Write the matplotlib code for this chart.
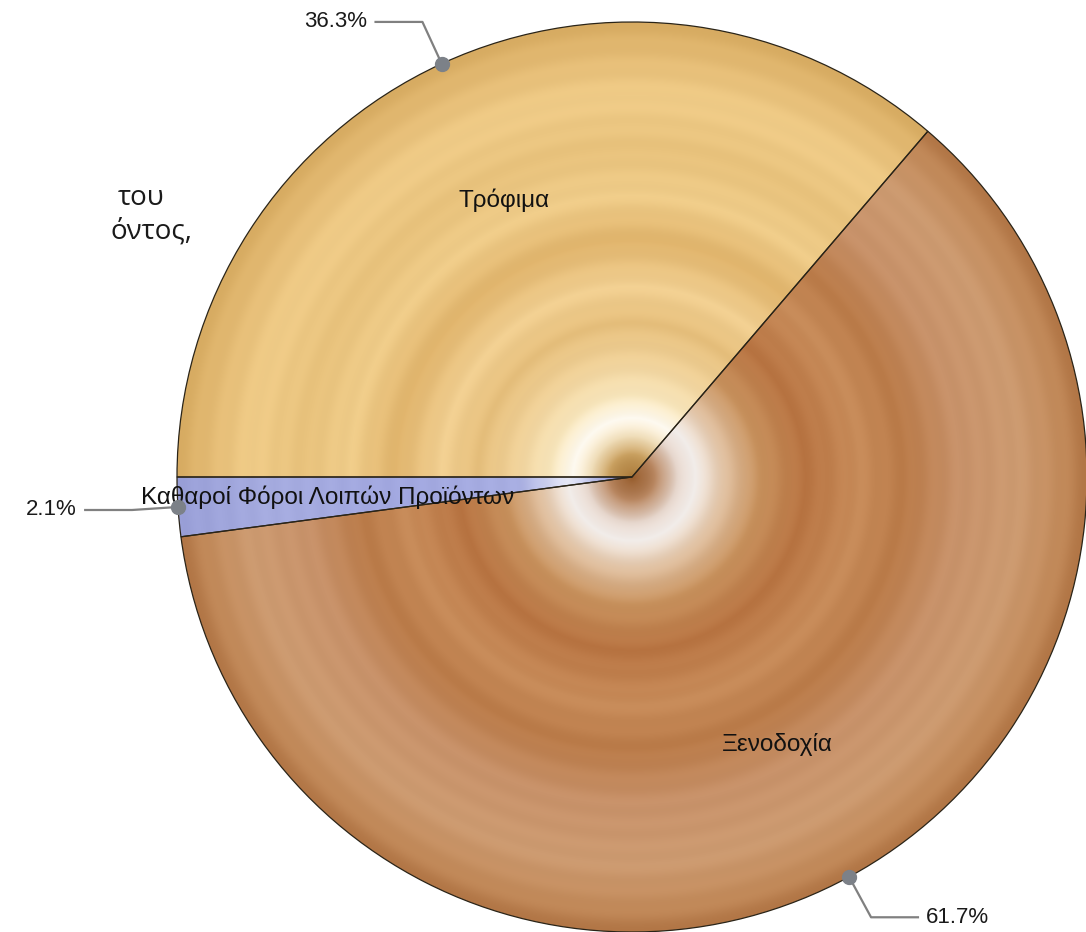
import numpy as np
import matplotlib
matplotlib.use('Agg')
import matplotlib.pyplot as plt
from matplotlib.colors import to_rgb

# ---- data ----
categories = ['Τρόφιμα', 'Καθαροί Φόροι Λοιπών Προϊόντων', 'Ξενοδοχία']
values = [36.3, 2.1, 61.7]
pct_labels = ['36.3%', '2.1%', '61.7%']
title_fragments = ['του', 'όντος,']

W, H = 1086, 932
fig = plt.figure(figsize=(W / 100, H / 100), dpi=100)
ax = fig.add_axes([0, 0, 1, 1])

cx, cy = 632, H - 477
R = 455
total = sum(values)
start = 180 - values[0] / total * 360

wedges, texts = ax.pie(values, center=(cx, cy), radius=R, startangle=start,
                       counterclock=True, labels=categories, labeldistance=0.67,
                       wedgeprops=dict(edgecolor='#2a2418', linewidth=0.9),
                       textprops=dict(fontsize=17.5, family='Liberation Sans', color='#111111'),
                       frame=True)
ax.set_xlim(0, W)
ax.set_ylim(0, H)
ax.set_aspect('auto')
ax.axis('off')

# radial colour profiles (style)
profiles = [
    [(0.00, '#a87838'), (0.05, '#c9a060'), (0.09, '#f2e0bc'), (0.13, '#fffbf2'),
     (0.18, '#f8e6bc'), (0.26, '#f0d198'), (0.34, '#e6bf7c'), (0.42, '#f2d092'),
     (0.52, '#e0b46c'), (0.62, '#f0cd8a'), (0.72, '#e8c27c'), (0.84, '#f0cc88'),
     (0.93, '#e4bb74'), (1.00, '#d8ac62')],
    [(0.00, '#6a72c0'), (0.10, '#c8ccee'), (0.14, '#e8eaf8'), (0.25, '#a8aee2'),
     (0.50, '#a2a8e0'), (0.80, '#a6ace0'), (1.00, '#9aa0d8')],
    [(0.00, '#945a2a'), (0.05, '#b88660'), (0.10, '#e6d6cc'), (0.14, '#f4efec'),
     (0.20, '#e2c4a6'), (0.28, '#c8925e'), (0.38, '#b87442'), (0.50, '#c88c5a'),
     (0.60, '#ba7b49'), (0.72, '#c8926a'), (0.85, '#cd9b71'), (0.95, '#c28a5a'),
     (1.00, '#b27646')],
]

n = 700
xs = np.linspace(-1, 1, n)
X, Y = np.meshgrid(xs, xs)
Rr = np.sqrt(X ** 2 + Y ** 2)
ripple = 0.008 * np.sin(2 * np.pi * Rr / 0.05)

for w, prof in zip(wedges, profiles):
    pos = np.array([p for p, _ in prof])
    cols = np.array([to_rgb(c) for _, c in prof])
    img = np.zeros((n, n, 3))
    for k in range(3):
        img[..., k] = np.interp(np.clip(Rr, 0, 1), pos, cols[:, k])
    img = np.clip(img + ripple[..., None], 0, 1)
    im = ax.imshow(img, extent=(cx - R, cx + R, cy - R, cy + R), origin='lower',
                   interpolation='bilinear', zorder=1)
    im.set_clip_path(w)
    w.set_facecolor('none')
    w.set_zorder(3)

for t in texts:
    t.set_ha('center')
    t.set_va('center')
    t.set_zorder(5)

# leader lines with percentage labels
for w, lab in zip(wedges, pct_labels):
    th = np.deg2rad((w.theta1 + w.theta2) / 2)
    c, s = np.cos(th), np.sin(th)
    x0, y0 = cx + R * c, cy + R * s
    x1, y1 = cx + (R + 46) * c, cy + (R + 46) * s
    d = 1 if c > 0 else -1
    x2 = x1 + d * 48
    ax.plot([x0, x1, x2], [y0, y1, y1], color='#808080', lw=1.6, zorder=6,
            solid_capstyle='butt', clip_on=False)
    ax.plot([x0], [y0], 'o', color='#7c8188', ms=10, zorder=7, clip_on=False)
    ax.text(x2 + d * 7, y1, lab, ha='left' if d > 0 else 'right', va='center',
            fontsize=16, family='Liberation Sans', color='#1a1a1a', zorder=7)

# partially visible title text on the left
ax.text(118, H - 198, title_fragments[0], ha='left', va='center', fontsize=20,
        family='Open Sans', color='#1a1a1a')
ax.text(110, H - 232, title_fragments[1], ha='left', va='center', fontsize=20,
        family='Open Sans', color='#1a1a1a')

fig.savefig('out.png', dpi=100, facecolor='white')
